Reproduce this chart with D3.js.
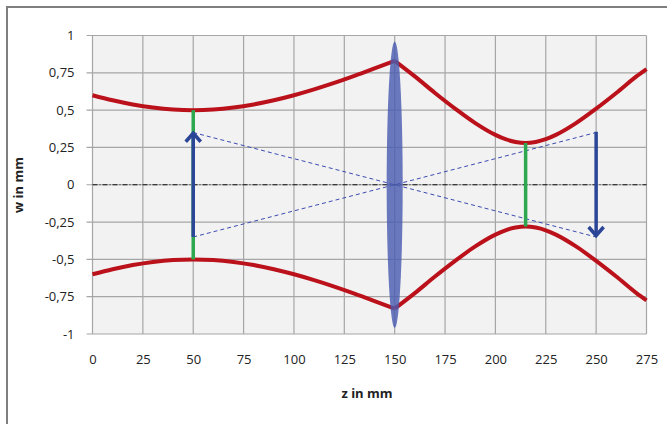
<!DOCTYPE html>
<html>
<head>
<meta charset="utf-8">
<script src="https://cdn.jsdelivr.net/npm/d3@7"></script>
<style>
  body { margin: 0; background: #fff; }
  svg { display: block; }
  text { font-family: "Open Sans", "DejaVu Sans", sans-serif; fill: #222; }
</style>
</head>
<body>
<svg id="chart"></svg>
<script>

const width = 667;
const height = 424;

const zTicks = [0, 25, 50, 75, 100, 125, 150, 175, 200, 225, 250, 275];
const wTicks = [-1, -0.75, -0.5, -0.25, 0, 0.25, 0.5, 0.75, 1];

// beam before the lens (upper edge, lower edge is mirrored)
const leftZ = [0, 10, 20, 30, 40, 50, 60, 70, 80, 90, 100, 110, 120, 130, 140, 150];
const leftW = [0.60, 0.566, 0.538, 0.517, 0.504, 0.50, 0.504, 0.517, 0.538, 0.566, 0.60, 0.639, 0.682, 0.729, 0.779, 0.83];

// beam after the lens
const rightZ = [150, 160, 170, 180, 190, 200, 205, 210, 215, 220, 225, 230, 240, 250, 260, 270, 275];
const rightW = [0.83, 0.726, 0.615, 0.51, 0.413, 0.334, 0.305, 0.287, 0.28, 0.287, 0.305, 0.334, 0.413, 0.51, 0.615, 0.726, 0.775];

// waists (green), object / image arrows, rays through lens centre
const waistZ = [50, 215];
const waistW = [0.5, 0.28];
const arrowZ = [50, 250];
const arrowFrom = [-0.35, 0.355];
const arrowTo = [0.355, -0.35];
const rays = [[50, 0.35, 250, -0.35], [50, -0.35, 250, 0.35]];
const lensZ = 150;
const lensHalf = 0.96;

const svg = d3.select("#chart")
    .attr("width", width)
    .attr("height", height)

// outer chart frame
svg.append("rect")
   .attr("x", 7).attr("y", 7)
   .attr("width", 720).attr("height", 520)
   .attr("fill", "#fff")
   .attr("stroke", "#7f7f7f")
   .attr("stroke-width", 2)

const xScale = d3.scaleLinear().domain([0, 275]).range([92.5, 646.5])
const yScale = d3.scaleLinear().domain([-1, 1]).range([334, 35.5])

svg.append("rect")
   .attr("x", xScale(0)).attr("y", yScale(1))
   .attr("width", xScale(275) - xScale(0))
   .attr("height", yScale(-1) - yScale(1))
   .attr("fill", "#f2f2f2")

// grid
svg.append("g")
   .selectAll("line")
   .data(zTicks)
   .enter()
   .append("line")
   .attr("x1", d => xScale(d)).attr("x2", d => xScale(d))
   .attr("y1", yScale(1)).attr("y2", yScale(-1))
   .attr("stroke", "#a6a6a6").attr("stroke-width", 1.2)

svg.append("g")
   .selectAll("line")
   .data(wTicks)
   .enter()
   .append("line")
   .attr("x1", xScale(0) - 6).attr("x2", xScale(275))
   .attr("y1", d => yScale(d)).attr("y2", d => yScale(d))
   .attr("stroke", "#a6a6a6").attr("stroke-width", 1.2)

// axes labels via d3 axes, lines hidden
const fmt = d => String(d).replace(".", ",")

const yAxis = svg.append("g")
   .attr("transform", `translate(${xScale(0) - 6}, 0)`)
   .call(d3.axisLeft(yScale).tickValues(wTicks).tickFormat(fmt).tickSize(0).tickPadding(12))
yAxis.select(".domain").remove()
yAxis.selectAll("text").style("font-size", "13px").style("font-family", "Open Sans, sans-serif").attr("fill", "#222")

const xAxis = svg.append("g")
   .attr("transform", `translate(0, ${yScale(-1)})`)
   .call(d3.axisBottom(xScale).tickValues(zTicks).tickFormat(d3.format("d")).tickSize(0).tickPadding(21))
xAxis.select(".domain").remove()
xAxis.selectAll("text").style("font-size", "13px").style("font-family", "Open Sans, sans-serif").attr("fill", "#222")

svg.append("text")
   .attr("x", 367).attr("y", 398)
   .attr("text-anchor", "middle")
   .style("font-size", "13px").style("font-weight", "bold")
   .text("z in  mm")

svg.append("text")
   .attr("transform", `translate(23, 185) rotate(-90)`)
   .attr("text-anchor", "middle")
   .style("font-size", "13px").style("font-weight", "bold")
   .text("w in mm")

// optical axis
svg.append("line")
   .attr("x1", xScale(0)).attr("x2", xScale(275))
   .attr("y1", yScale(0)).attr("y2", yScale(0))
   .attr("stroke", "#111").attr("stroke-width", 1)
   .attr("stroke-dasharray", "5,2,1,2")

// beam envelope
const line = d3.line().x(d => xScale(d[0])).y(d => yScale(d[1])).curve(d3.curveMonotoneX)
const beams = [
    leftZ.map((z, i) => [z, leftW[i]]),
    leftZ.map((z, i) => [z, -leftW[i]]),
    rightZ.map((z, i) => [z, rightW[i]]),
    rightZ.map((z, i) => [z, -rightW[i]])
]
svg.append("g")
   .selectAll("path")
   .data(beams)
   .enter()
   .append("path")
   .attr("d", line)
   .attr("fill", "none")
   .attr("stroke", "#bb111b")
   .attr("stroke-width", 4)
   .attr("stroke-linejoin", "round")

// rays
svg.append("g")
   .selectAll("line")
   .data(rays)
   .enter()
   .append("line")
   .attr("x1", d => xScale(d[0])).attr("y1", d => yScale(d[1]))
   .attr("x2", d => xScale(d[2])).attr("y2", d => yScale(d[3]))
   .attr("stroke", "#3b4bb0").attr("stroke-width", 1)
   .attr("stroke-dasharray", "4,3")

// waists
svg.append("g")
   .selectAll("line")
   .data(waistZ)
   .enter()
   .append("line")
   .attr("x1", d => xScale(d)).attr("x2", d => xScale(d))
   .attr("y1", (d, i) => yScale(waistW[i])).attr("y2", (d, i) => yScale(-waistW[i]))
   .attr("stroke", "#2ea84e").attr("stroke-width", 3.5)

// arrows
const arrows = svg.append("g")
arrowZ.forEach((z, i) => {
    const x = xScale(z)
    const y0 = yScale(arrowFrom[i])
    const y1 = yScale(arrowTo[i])
    const dir = y1 < y0 ? 1 : -1
    arrows.append("line")
       .attr("x1", x).attr("x2", x)
       .attr("y1", y0).attr("y2", y1 + dir * 1)
       .attr("stroke", "#2b4597").attr("stroke-width", 3.5)
    arrows.append("path")
       .attr("d", `M${x - 7.5},${y1 + dir * 10}L${x},${y1 + dir * 1.5}L${x + 7.5},${y1 + dir * 10}`)
       .attr("fill", "none")
       .attr("stroke", "#2b4597").attr("stroke-width", 3.5)
       .attr("stroke-linejoin", "miter")
})

// lens
svg.append("ellipse")
   .attr("cx", xScale(lensZ)).attr("cy", yScale(0))
   .attr("rx", 8)
   .attr("ry", yScale(-lensHalf) - yScale(0))
   .attr("fill", "#4a5bb0")
   .attr("fill-opacity", 0.82)

</script>
</body>
</html>
